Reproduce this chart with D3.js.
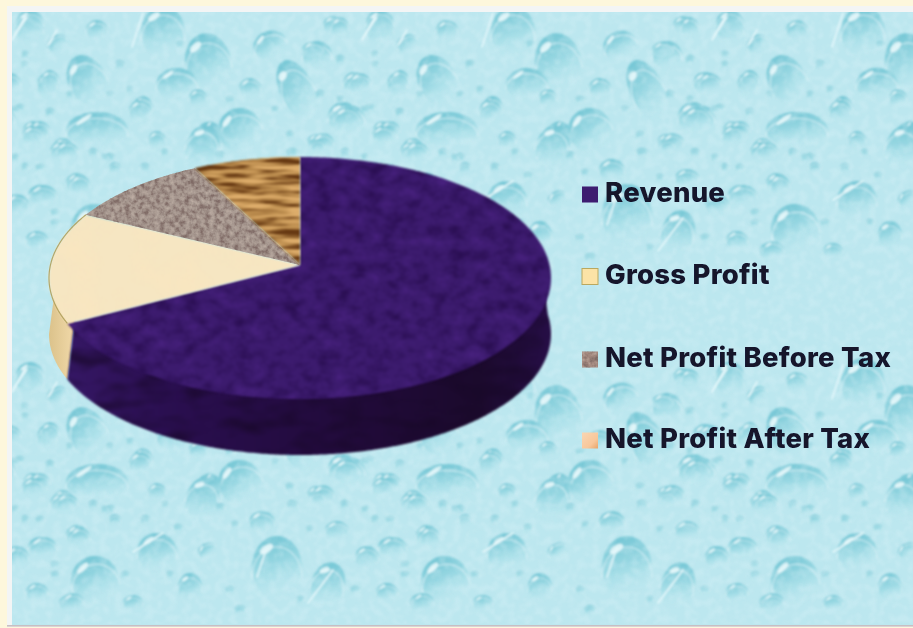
<!DOCTYPE html>
<html>
<head>
<meta charset="utf-8">
<script src="https://cdn.jsdelivr.net/npm/d3@7"></script>
<style>
  html, body { margin: 0; padding: 0; background: #fdf7dc; }
  svg { display: block; }
  text { font-family: Inter, "Noto Sans", sans-serif; font-weight: 800; }
</style>
</head>
<body>
<svg id="chart" width="913" height="628"></svg>
<script>
// Chart data
const categories = ["Revenue", "Gross Profit", "Net Profit Before Tax", "Net Profit After Tax"];
const values = [100, 21.6, 13.6, 10];
const sliceFills = ["#3c1b6e", "#f6e6c2", "#a6978f", "#b98a4c"];
const swatchFills = ["#3c1b70", "#fbe3a6", "#a58a80", "url(#peachSwatch)"];
const legendBaselines = [202, 284, 367, 448];

// Water-drop wallpaper: x, y, rx, ry, tilt. The wallpaper repeats every 350 x 352 px.
const largeDrops = [
  [558,62,23,29,-10],[437,80,19,26,-25],[447,130,31,18,0],[590,130,22,22,-20],[647,90,17,32,-25],
  [527,84,21,16,0],[513,32,22,26,0],[700,119,15,14,0],[620,45,17,14,-20],[667,55,15,14,0],
  [557,142,15,21,15],[343,117,15,15,0],[277,567,25,31,0],[95,580,24,24,-10],[157,552,20,19,0],
  [328,585,17,23,15],[203,499,17,22,15]
];
const mediumDrops = [
  [600,88,11,10,0],[355,83,12,11,0],[397,85,10,12,0],[493,108,10,12,0],[548,98,9,9,0],[383,130,10,9,0],
  [413,147,10,9,0],[317,142,10,8,0],[507,140,9,9,0],[673,143,11,10,0],[740,130,10,9,0],[710,83,11,10,0],
  [750,80,9,10,0],[313,50,11,8,0],[407,43,11,8,-30],[447,30,11,10,0],[380,30,14,13,0],[333,25,10,9,0],
  [730,23,14,13,0],[690,27,9,10,0],[347,470,13,11,0],[387,487,10,9,0],[262,522,13,11,0],[190,587,12,14,0],
  [140,463,11,11,0],[33,487,11,9,0],[60,503,10,9,0],[77,535,11,10,0],[40,547,12,10,0],[37,592,11,9,0],
  [70,603,11,9,0],[133,603,10,8,0],[430,537,10,10,0],[417,503,11,9,0],[393,547,14,10,0],[367,557,12,11,0],
  [337,530,12,9,0],[207,550,10,7,-30],[387,592,11,9,0],[423,602,11,9,0]
];
const smallDrops = [
  [20,460,5,4,0],[50,465,5,5,0],[110,510,5,5,0],[115,520,6,6,0],[145,520,5,5,0],[165,505,4,4,0],[178,528,5,4,0],
  [220,508,5,5,0],[235,525,4,4,0],[292,505,6,5,0],[318,498,7,6,0],[345,505,5,5,0],[365,510,4,4,0],[390,520,5,4,0],
  [443,505,5,5,0],[25,520,4,5,0],[55,565,5,4,0],[125,575,5,4,0],[170,575,4,4,0],[230,590,5,4,0],[240,610,6,5,0],
  [310,530,4,4,0],[355,590,5,4,0],[300,600,4,4,0],[405,575,5,4,0],[455,510,4,4,0],[340,60,5,5,0],[375,65,4,4,0],
  [420,95,4,4,0],[470,65,5,5,0],[480,90,4,4,0],[530,45,4,4,0],[580,100,5,4,0],[625,110,4,4,0],[640,135,5,4,0],
  [690,100,4,4,0],[725,55,4,4,0],[320,95,5,5,0],[365,110,5,4,0],[460,95,4,4,0]
];
const streaks = [
  [493,13,482,47],[203,480,187,510],[163,533,133,552],[333,570,308,603],[267,547,257,577],
  [375,17,362,40],[727,17,713,38],[560,123,537,153],[407,30,398,45]
];

const tileW = 350, tileH = 352, tileX = 145, tileY = 144;
const wrap = (v, n) => ((v % n) + n) % n;

const svg = d3.select("#chart");
const defs = svg.append("defs");

// ---- Gradients and material filters ----
function linearGradient(id, attrs, stops) {
  const g = defs.append("linearGradient").attr("id", id);
  Object.entries(attrs).forEach(([k, v]) => g.attr(k, v));
  stops.forEach(([o, c, a]) => g.append("stop").attr("offset", o).attr("stop-color", c).attr("stop-opacity", a === undefined ? 1 : a));
}
linearGradient("dropFill", {x1: 0.3, y1: 0, x2: 0.55, y2: 1},
  [[0, "#72c5d4"], [0.45, "#97d7e2"], [0.85, "#b8e6ee", 0.5], [1, "#bfe9f1", 0]]);
linearGradient("revenueSide", {gradientUnits: "userSpaceOnUse", x1: 70, y1: 0, x2: 551, y2: 0},
  [[0, "#351764"], [0.2, "#2a0f50"], [0.55, "#220b3c"], [0.85, "#1b0a2c"], [1, "#260e46"]]);
linearGradient("grossSide", {gradientUnits: "userSpaceOnUse", x1: 50, y1: 0, x2: 72, y2: 0},
  [[0, "#dcc38c"], [1, "#efd7a6"]]);
linearGradient("peachSwatch", {x1: 0, y1: 0, x2: 1, y2: 1},
  [[0, "#f9d6b4"], [0.65, "#f8c79a"], [1, "#e8a468"]]);

function materialFilter(id, freq, octaves, seed, overlays, blur) {
  const f = defs.append("filter").attr("id", id)
    .attr("x", "-5%").attr("y", "-5%").attr("width", "110%").attr("height", "110%")
    .attr("color-interpolation-filters", "sRGB");
  f.append("feTurbulence").attr("type", "fractalNoise").attr("baseFrequency", freq)
    .attr("numOctaves", octaves).attr("seed", seed).attr("result", "noise");
  const names = [];
  overlays.forEach((o, i) => {
    f.append("feColorMatrix").attr("in", "noise").attr("type", "matrix")
      .attr("values", `0 0 0 0 ${o.r}  0 0 0 0 ${o.g}  0 0 0 0 ${o.b}  ${o.k} 0 0 0 ${o.c}`)
      .attr("result", "tint" + i);
    f.append("feComposite").attr("in", "tint" + i).attr("in2", "SourceGraphic")
      .attr("operator", "in").attr("result", "clip" + i);
    names.push("clip" + i);
  });
  const m = f.append("feMerge").attr("result", "merged");
  m.append("feMergeNode").attr("in", "SourceGraphic");
  names.forEach(n => m.append("feMergeNode").attr("in", n));
  f.append("feGaussianBlur").attr("in", "merged").attr("stdDeviation", blur);
}
materialFilter("velvet", "0.06 0.08", 3, 7, [
  {r: 0.17, g: 0.06, b: 0.33, k: 2.8, c: -1.3},
  {r: 0.30, g: 0.14, b: 0.52, k: -2.4, c: 1.0}
], 0.9);
materialFilter("velvetDark", "0.03 0.06", 2, 11, [{r: 0.09, g: 0.03, b: 0.15, k: 1.6, c: -0.7}], 0.8);
materialFilter("cream", "0.03", 2, 4, [{r: 0.98, g: 0.90, b: 0.75, k: 1.5, c: -0.6}], 0.8);
materialFilter("granite", "0.2", 3, 3, [
  {r: 0.50, g: 0.42, b: 0.40, k: 3, c: -1.35},
  {r: 0.74, g: 0.68, b: 0.64, k: -3, c: 1.35}
], 0.75);
materialFilter("wood", "0.018 0.17", 3, 21, [
  {r: 0.40, g: 0.22, b: 0.07, k: 7, c: -3.5},
  {r: 0.87, g: 0.68, b: 0.42, k: -7, c: 3.4}
], 0.8);
const sliceFilters = ["velvet", "cream", "granite", "wood"];

// Soft mottling that sits over the wallpaper colour
const wall = defs.append("filter").attr("id", "wallGrain").attr("x", 0).attr("y", 0).attr("width", "100%").attr("height", "100%")
  .attr("color-interpolation-filters", "sRGB");
wall.append("feTurbulence").attr("type", "fractalNoise").attr("baseFrequency", "0.13").attr("numOctaves", 3).attr("seed", 5);
wall.append("feColorMatrix").attr("type", "matrix").attr("values", "0 0 0 0 0.90  0 0 0 0 0.97  0 0 0 0 0.99  3.8 0 0 0 -1.6");
wall.append("feGaussianBlur").attr("stdDeviation", 0.8);

const soft = defs.append("filter").attr("id", "dropSoft").attr("x", "-2%").attr("y", "-2%").attr("width", "104%").attr("height", "104%");
soft.append("feGaussianBlur").attr("stdDeviation", 1.0);

const blurLegend = defs.append("filter").attr("id", "textSoft").attr("x", "-3%").attr("y", "-10%").attr("width", "106%").attr("height", "120%");
blurLegend.append("feGaussianBlur").attr("stdDeviation", 0.55);

defs.append("clipPath").attr("id", "panelClip").append("rect")
  .attr("x", 12).attr("y", 12).attr("width", 901).attr("height", 612);

// ---- Frame and wallpaper ----
svg.append("rect").attr("width", 913).attr("height", 628).attr("fill", "#fdf7dc");
svg.append("rect").attr("x", 7).attr("y", 6).attr("width", 906).attr("height", 621).attr("fill", "#f3f5f5");
svg.append("rect").attr("x", 7).attr("y", 625).attr("width", 906).attr("height", 1.6).attr("fill", "#c9bfc2");
svg.append("rect").attr("x", 12).attr("y", 12).attr("width", 901).attr("height", 613).attr("fill", "#bce7ef");

const panel = svg.append("g").attr("clip-path", "url(#panelClip)");
const tile = defs.append("g").attr("id", "dropTile");

function addDrops(list, withGlint) {
  list.forEach(([x, y, rx, ry, tilt]) => {
    const g = tile.append("g")
      .attr("transform", `translate(${wrap(x - tileX, tileW)},${wrap(y - tileY, tileH)}) rotate(${tilt})`);
    g.append("ellipse").attr("rx", rx).attr("ry", ry).attr("fill", "url(#dropFill)");
    // pale lip around the shoulder of the drop, open towards the bottom
    g.append("path")
      .attr("d", `M${-rx},${ry * 0.35} A${rx},${ry} 0 1 1 ${rx},${ry * 0.35}`)
      .attr("fill", "none").attr("stroke", "#e0f5f9").attr("stroke-width", rx > 14 ? 1.3 : 0.9).attr("stroke-opacity", 0.65);
    if (withGlint) {
      g.append("ellipse").attr("cx", -rx * 0.42).attr("cy", -ry * 0.58)
        .attr("rx", Math.max(1.5, rx * 0.3)).attr("ry", Math.max(1, ry * 0.12))
        .attr("transform", `rotate(-35 ${-rx * 0.42} ${-ry * 0.58})`)
        .attr("fill", "#f0fcfe").attr("fill-opacity", 0.8);
    }
  });
}
addDrops(largeDrops, true);
addDrops(mediumDrops, true);
addDrops(smallDrops, false);
streaks.forEach(([x1, y1, x2, y2]) => {
  const ox = wrap(x1 - tileX, tileW) - x1, oy = wrap(y1 - tileY, tileH) - y1;
  tile.append("line").attr("x1", x1 + ox).attr("y1", y1 + oy).attr("x2", x2 + ox).attr("y2", y2 + oy)
    .attr("stroke", "#e6f8fb").attr("stroke-width", 1.6).attr("stroke-linecap", "round");
});

const wallpaper = panel.append("g").attr("filter", "url(#dropSoft)");
d3.range(-1, 3).forEach(i => d3.range(-1, 2).forEach(j => {
  wallpaper.append("use").attr("href", "#dropTile")
    .attr("x", tileX + i * tileW).attr("y", tileY + j * tileH);
}));
panel.append("rect").attr("x", 12).attr("y", 12).attr("width", 901).attr("height", 613)
  .attr("filter", "url(#wallGrain)").attr("opacity", 0.22);

// ---- Tilted pie ----
const rimCx = 300, rimCy = 278, rimRx = 251, rimRy = 121, thickness = 56;
const apex = [300, 265];

const pie = d3.pie().sort(null).value(d => d)(values);
const rimPoint = a => [rimCx + rimRx * Math.sin(a), rimCy - rimRy * Math.cos(a)];
const line = d3.line();
const sweep = (a0, a1) => {
  const n = Math.max(2, Math.ceil((a1 - a0) / 0.01));
  return d3.range(n + 1).map(i => a0 + (a1 - a0) * i / n);
};
const topPath = d => line([apex, ...sweep(d.startAngle, d.endAngle).map(rimPoint)]) + "Z";
// The wall's upper edge is tucked slightly under the lid so no seam shows between them
const sidePath = (a0, a1) => {
  const rim = sweep(a0, a1).map(rimPoint);
  const upper = rim.map(([x, y]) => [rimCx + (x - rimCx) * 0.97, rimCy + (y - rimCy) * 0.95]);
  const lower = rim.map(([x, y]) => [x, y + thickness]).reverse();
  return line([...upper, ...lower]) + "Z";
};

const chart = svg.append("g");
const quarter = Math.PI / 2;

// The wall is only seen along the front half of the rim
chart.append("path").attr("d", sidePath(pie[0].endAngle, 3 * quarter))
  .attr("fill", "url(#grossSide)");
chart.append("path").attr("d", sidePath(quarter * 0.9, pie[0].endAngle))
  .attr("fill", "url(#revenueSide)").attr("filter", "url(#velvetDark)");

chart.selectAll("path.slice").data(pie).join("path")
  .attr("class", "slice")
  .attr("d", topPath)
  .attr("fill", (d, i) => sliceFills[i])
  .attr("filter", (d, i) => `url(#${sliceFilters[i]})`);

// Thin darker rim on the pale slice
chart.append("path")
  .attr("d", line(sweep(pie[1].startAngle, pie[1].endAngle).map(rimPoint)))
  .attr("fill", "none").attr("stroke", "#a8974f").attr("stroke-width", 1.2).attr("stroke-opacity", 0.8);

// ---- Legend ----
const legend = svg.append("g");
const rows = legend.selectAll("g").data(categories).join("g")
  .attr("transform", (d, i) => `translate(0,${legendBaselines[i]})`);
rows.append("rect").attr("x", 582).attr("y", -15.5).attr("width", 16).attr("height", 16)
  .attr("fill", (d, i) => swatchFills[i])
  .attr("stroke", (d, i) => i === 1 ? "#b9a860" : "none").attr("stroke-width", 1)
  .attr("filter", (d, i) => i === 2 ? "url(#granite)" : "url(#textSoft)");
rows.append("text").attr("x", 605).attr("y", 0)
  .attr("font-size", 27.5).attr("letter-spacing", 0.25).attr("fill", "#12122c")
  .attr("filter", "url(#textSoft)")
  .text(d => d);
</script>
</body>
</html>
